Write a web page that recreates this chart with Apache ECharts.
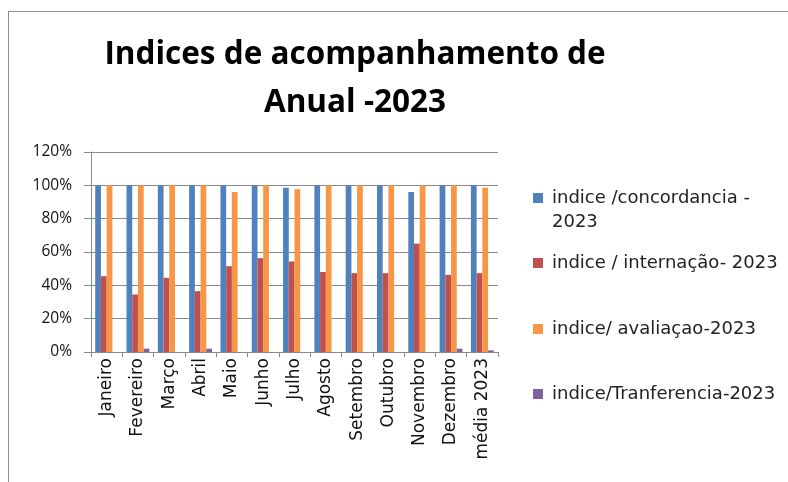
<!DOCTYPE html>
<html>
<head>
<meta charset="utf-8">
<script src="https://cdn.jsdelivr.net/npm/echarts@6/dist/echarts.min.js"></script>
<style>
  html, body { margin: 0; padding: 0; background: #ffffff; }
  #chart { width: 788px; height: 482px; }
</style>
</head>
<body>
<div id="chart"></div>
<script>
// Monthly follow-up indices for 2023 (percent)
const categories = ['Janeiro', 'Fevereiro', 'Março', 'Abril', 'Maio', 'Junho', 'Julho',
  'Agosto', 'Setembro', 'Outubro', 'Novembro', 'Dezembro', 'média 2023'];

const seriesNames = [
  'indice /concordancia -2023',
  'indice / internação- 2023',
  'indice/ avaliaçao-2023',
  'indice/Tranferencia-2023'
];

const concordancia = [100, 100, 100, 100, 100, 100, 98.5, 100, 100, 100, 96, 100, 100];
const internacao   = [45.5, 34.5, 44.5, 36.5, 51.5, 56.3, 54.3, 48, 47.3, 47.3, 65, 46.3, 47.3];
const avaliacao    = [100, 100, 100, 100, 96, 100, 97.6, 100, 100, 100, 100, 100, 98.6];
const transferencia = [0, 2, 0, 2, 0, 0, 0, 0, 0, 0, 0, 2, 1];

const yTicks = { min: 0, max: 120, interval: 20 };

const colors = ['#4F81BD', '#C0504D', '#F79646', '#8064A2'];
const seriesData = [concordancia, internacao, avaliacao, transferencia];

const TITLE_FONT = 'Open Sans';
const LABEL_FONT = 'DejaVu Sans';
const GRID_COLOR = '#8a8a8a';

const chart = echarts.init(document.getElementById('chart'));

// one legend block per series, stacked down the right side
const legendTops = [189, 254, 320, 385];
const legends = seriesNames.map((name, i) => ({
  data: [name],
  left: 533,
  top: legendTops[i],
  padding: 0,
  orient: 'vertical',
  icon: 'rect',
  itemWidth: 10,
  itemHeight: 10,
  itemGap: 0,
  selectedMode: false,
  formatter: (n) => (i === 0 ? 'indice /concordancia -' : n),
  textStyle: { fontFamily: LABEL_FONT, fontSize: 18, color: '#222', lineHeight: 18, padding: [0, 0, 0, 4] }
}));

chart.setOption({
  backgroundColor: '#ffffff',
  animation: false,
  title: {
    text: 'Indices de acompanhamento de\nAnual -2023',
    left: 350,
    top: 26,
    textAlign: 'center',
    textStyle: { fontFamily: TITLE_FONT, fontWeight: 'bold', fontSize: 31.5, lineHeight: 48, color: '#000' }
  },
  legend: legends,
  grid: { left: 91, right: 290, top: 152, bottom: 130, containLabel: false },
  xAxis: {
    type: 'category',
    data: categories,
    axisLine: { lineStyle: { color: GRID_COLOR, width: 1 } },
    axisTick: { show: true, length: 5, lineStyle: { color: GRID_COLOR } },
    axisLabel: { rotate: 90, margin: 6, fontFamily: LABEL_FONT, fontSize: 17, color: '#111' }
  },
  yAxis: {
    type: 'value',
    min: yTicks.min,
    max: yTicks.max,
    interval: yTicks.interval,
    axisLine: { show: true, lineStyle: { color: GRID_COLOR } },
    axisTick: { show: true, length: 7, lineStyle: { color: GRID_COLOR } },
    splitLine: { lineStyle: { color: GRID_COLOR, width: 1 } },
    axisLabel: { formatter: '{value}%', margin: 19, fontFamily: TITLE_FONT, fontSize: 15.5, color: '#111' }
  },
  series: seriesNames.map((name, i) => ({
    name,
    type: 'bar',
    data: seriesData[i],
    barGap: '0%',
    barCategoryGap: '27%',
    itemStyle: { color: colors[i] }
  })),
  graphic: [
    { type: 'text', left: 552, top: 213, style: { text: '2023', fontFamily: LABEL_FONT, fontSize: 18, fill: '#222' } },
    { type: 'line', shape: { x1: 8.5, y1: 11, x2: 8.5, y2: 482 }, style: { stroke: '#8f8f8f', lineWidth: 1 } },
    { type: 'line', shape: { x1: 8, y1: 11.5, x2: 788, y2: 11.5 }, style: { stroke: '#8f8f8f', lineWidth: 1 } }
  ]
});
</script>
</body>
</html>
